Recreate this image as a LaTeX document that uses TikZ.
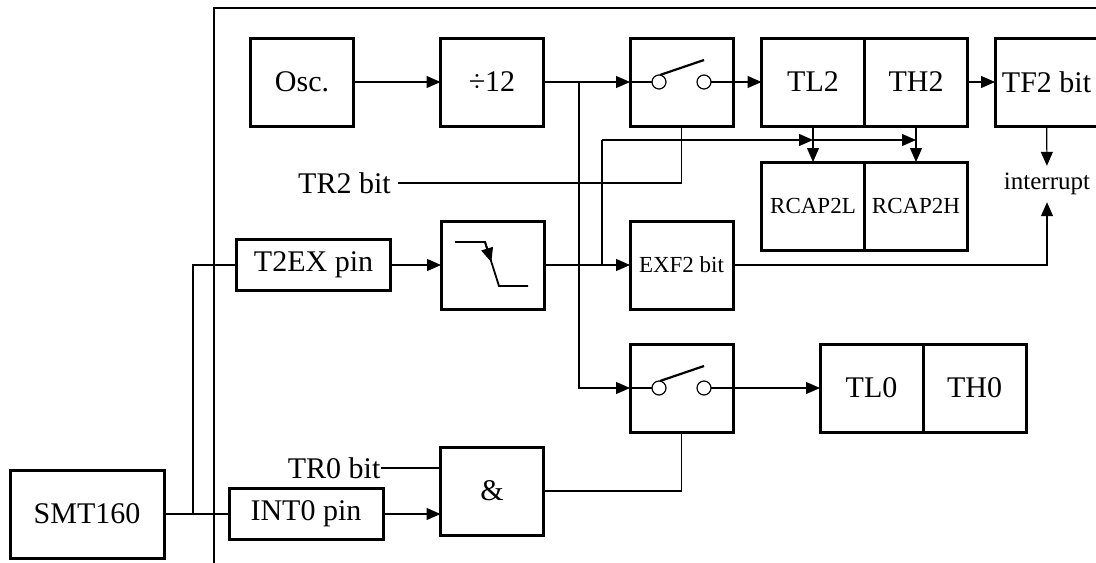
\documentclass[tikz,border=0pt]{standalone}
\usepackage{fontspec}
\setmainfont{Liberation Serif}
\usetikzlibrary{arrows.meta,positioning}

\begin{document}
\begin{tikzpicture}[x=0.5pt,y=-0.5pt,>={Triangle[length=7pt,width=6pt]},line width=0.6pt]
  \tikzset{blk/.style={draw,line width=1.5pt,outer sep=0pt,inner sep=0pt,minimum width=51.5pt,minimum height=44pt,font=\fontsize{15}{18}\selectfont},
    pinbox/.style={blk,minimum width=77pt,minimum height=25.5pt},
    lbl/.style={font=\fontsize{15}{18}\selectfont},
    tiny/.style={font=\fontsize{11.5}{14}\selectfont}}
  \path[use as bounding box,clip] (0,0) rectangle (1096,562);
  \draw[line width=1.3pt] (214,620) -- (214,8) -- (1200,8);
  % upper row
  \node[blk] (osc) at (302,82) {Osc.};
  \node[blk] (div) at (492,82) {÷12};
  \node[blk] (sw1) at (681.5,82) {};
  \node[blk] (tl2) at (813,82) {TL2};
  \node[blk,right=0pt of tl2] (th2) {TH2};
  \node[blk] (tf2) at (1046.5,82) {TF2 bit};
  \node[blk,tiny] (rcapl) at (813,206) {RCAP2L};
  \node[blk,tiny,right=0pt of rcapl] (rcaph) {RCAP2H};
  \node[font=\fontsize{12.5}{15}\selectfont] (irq) at (1047,184) {interrupt};
  \node[lbl,anchor=east] (tr2) at (398,183) {TR2 bit};
  % middle row
  \node[pinbox] (t2ex) at (313.5,265) {T2EX pin};
  \node[blk] (edge) at (492.5,265) {};
  \node[blk,tiny] (exf2) at (681.5,265) {EXF2 bit};
  % lower rows
  \node[blk] (sw2) at (681.5,388) {};
  \node[blk] (tl0) at (871.5,388) {TL0};
  \node[blk,right=0pt of tl0] (th0) {TH0};
  \node[blk] (and) at (492,491) {\&};
  \node[lbl,anchor=east,inner xsep=0pt] (tr0) at (381,468) {TR0 bit};
  \node[pinbox] (int0) at (306,514) {INT0 pin};
  \node[blk,minimum width=77pt] (smt) at (87,514) {SMT160};
  \coordinate (ck) at (579,82);
  \coordinate (ex) at (602,265);
  \coordinate (cap) at (602,140);
  \coordinate (jn) at (193,514);
  % switches
  \foreach \s in {sw1,sw2}{
    \draw (\s.west) -- ([shift={(-29.5,0)}]\s.center);
    \draw ([shift={(-22.5,0)}]\s.center) circle[radius=3.5pt];
    \draw ([shift={(22.5,0)}]\s.center) circle[radius=3.5pt];
    \draw ([shift={(29.5,0)}]\s.center) -- (\s.east);
    \draw[line width=1.1pt] ([shift={(-21.5,-7)}]\s.center) -- ([shift={(22.5,-22)}]\s.center);
  }
  % falling edge
  \draw[line width=0.9pt] ([shift={(-37.5,-23)}]edge.center) -- ([shift={(-7.5,-23)}]edge.center)
    -- ([shift={(6.5,21)}]edge.center) -- ([shift={(35.5,21)}]edge.center);
  \draw[->,line width=0.9pt] ([shift={(-7.5,-23)}]edge.center) -- ([shift={(-1.2,-3)}]edge.center);
  % connections
  \draw[->] (osc) -- (div);
  \draw[->] (div) -- (sw1);
  \draw[->] (sw1) -- (tl2);
  \draw[->] (th2) -- (tf2);
  \draw[->] (tf2) -- (irq);
  \draw[->] (tl2) -- (rcapl);
  \draw[->] (th2) -- (rcaph);
  \draw (tr2.east) -| (sw1.south);
  \draw[->] (ck) |- (sw2.west);
  \draw[->] (t2ex) -- (edge);
  \draw[->] (edge) -- (exf2);
  \draw (ex) -- (cap);
  \draw[->] (cap) -- (cap -| tl2.south);
  \draw[->] (cap -| tl2.south) -- (cap -| th2.south);
  \draw[->] (exf2.east) -| (irq.south);
  \draw[->] (sw2) -- (tl0);
  \draw (and.east) -| (sw2.south);
  \draw (tr0.east) -- (tr0.east -| and.west);
  \draw[->] (int0.east) -- (int0.east -| and.west);
  \draw[line width=1.3pt] (smt) -- (int0);
  \draw (t2ex.west) -| (jn);
\end{tikzpicture}
\end{document}
